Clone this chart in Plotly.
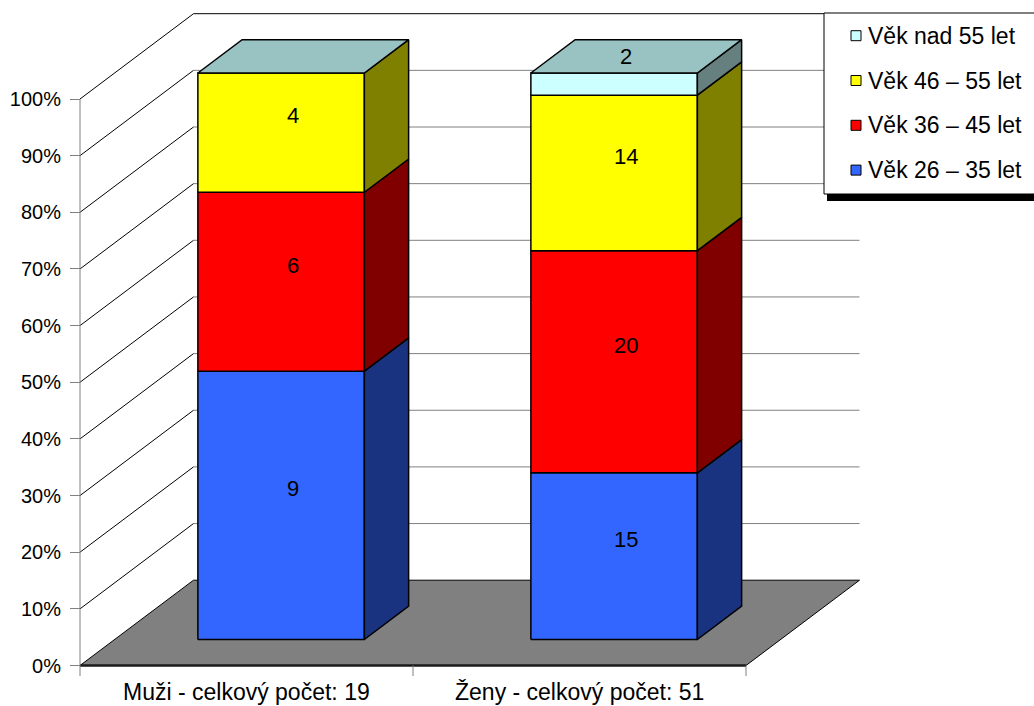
import plotly.graph_objects as go

# ---- data -------------------------------------------------------------
categories = ["Muži - celkový počet: 19", "Ženy - celkový počet: 51"]
series_names = ["Věk 26 – 35 let", "Věk 36 – 45 let", "Věk 46 – 55 let", "Věk nad 55 let"]
muzi_counts = [9, 6, 4, 0]
zeny_counts = [15, 20, 14, 2]
counts_by_category = [muzi_counts, zeny_counts]

front_colors = ["#3366FF", "#FF0000", "#FFFF00", "#CCFFFF"]
side_colors = ["#1A3380", "#800000", "#808000", "#668080"]
top_color = "#99C2C2"

pct_ticks = list(range(0, 101, 10))
tick_labels = [f"{t}%" for t in pct_ticks]

# ---- canvas / 3D oblique projection -----------------------------------
W, H = 1034, 706
AXIS_PX = 80          # pixel column of the front y axis
CAT_PX = 333.0        # pixels per category slot
PCT_PX = 5.665        # pixels per percent
ZERO_PX = 665.5       # pixel row of 0 %
DX = 113.5 / CAT_PX   # horizontal shift of the full floor depth (category units)
DY = 85.3 / PCT_PX    # vertical shift of the full floor depth (percent units)
BAR_W = 0.5           # bar width in category units
D0, D1 = 0.305, 0.695 # bar front / back depth fractions
FONT = "Liberation Sans, Arial"

x_range = [-0.5 - AXIS_PX / CAT_PX, -0.5 + (W - AXIS_PX) / CAT_PX]
y_range = [(ZERO_PX - H) / PCT_PX, ZERO_PX / PCT_PX]


def proj(x, v, d):
    return x + d * DX, v + d * DY


fig = go.Figure()


def path(points, color, width=1.0, fill=None, close=False):
    pts = [proj(*p) for p in points]
    if close:
        pts.append(pts[0])
    xs = [p[0] for p in pts]
    ys = [p[1] for p in pts]
    fig.add_trace(go.Scatter(
        x=xs, y=ys, mode="lines",
        line=dict(color=color, width=width),
        fill="toself" if fill else None,
        fillcolor=fill,
        hoverinfo="skip", showlegend=False,
    ))


x_left, x_right = -0.5, len(categories) - 0.5

# back wall gridlines
for v in pct_ticks[1:]:
    path([(x_left, v, 1), (x_right, v, 1)],
         "#000000" if v == 100 else "#808080", 1)

# left wall gridlines
for v in pct_ticks[1:]:
    path([(x_left, v, 0), (x_left, v, 1)], "#000000", 1)

# floor
path([(x_left, 0, 0), (x_right, 0, 0), (x_right, 0, 1), (x_left, 0, 1)],
     "#000000", 1, fill="#808080", close=True)
path([(x_left, 0, 0), (x_right, 0, 0)], "#1A1A1A", 2.5)

# front y axis line and category tick marks
tick_pct = 10.5 / PCT_PX
path([(x_left, 100, 0), (x_left, -tick_pct, 0)], "#808080", 1)
for i in range(1, len(categories) + 1):
    xb = x_left + i
    path([(xb, 0, 0), (xb, -tick_pct, 0)], "#808080", 1)

# stacked 3D bars
labels = []
for ci, counts in enumerate(counts_by_category):
    total = sum(counts)
    xl, xr = ci - BAR_W / 2, ci + BAR_W / 2
    base = 0.0
    last = max(i for i, c in enumerate(counts) if c > 0)
    for si, c in enumerate(counts):
        if c == 0:
            continue
        top = base + 100.0 * c / total
        # front face
        path([(xl, base, D0), (xr, base, D0), (xr, top, D0), (xl, top, D0)],
             "#000000", 1.5, fill=front_colors[si], close=True)
        # right side face
        path([(xr, base, D0), (xr, base, D1), (xr, top, D1), (xr, top, D0)],
             "#000000", 1.5, fill=side_colors[si], close=True)
        mid_depth = (D0 + D1) / 2
        if si == last and top - base < 8:
            lx, ly = proj(ci, top, mid_depth)
        else:
            lx, ly = proj(ci, (base + top) / 2, mid_depth)
        labels.append((lx, ly, str(c)))
        base = top
    # top face
    path([(xl, 100, D0), (xr, 100, D0), (xr, 100, D1), (xl, 100, D1)],
         "#000000", 1.5, fill=top_color, close=True)

annotations = []
for lx, ly, t in labels:
    annotations.append(dict(
        x=lx, y=ly, xref="x", yref="y", text=t, showarrow=False,
        font=dict(family=FONT, size=22, color="#000000"),
        xanchor="center", yanchor="middle", xshift=-10,
    ))

# category labels under the floor
for ci, name in enumerate(categories):
    annotations.append(dict(
        x=ci, y=0, xref="x", yref="y", text=name, showarrow=False,
        font=dict(family=FONT, size=23, color="#000000"),
        xanchor="center", yanchor="middle", yshift=-26,
    ))

# legend box with drop shadow
shapes = []


def px_x(px):
    return px / W


def px_y(py):
    return 1 - py / H


shapes.append(dict(type="rect", xref="paper", yref="paper",
                   x0=px_x(827), x1=px_x(W + 10), y0=px_y(201), y1=px_y(194),
                   fillcolor="#000000", line=dict(width=0), layer="above"))
shapes.append(dict(type="rect", xref="paper", yref="paper",
                   x0=px_x(824), x1=px_x(W + 10), y0=px_y(194), y1=px_y(13),
                   fillcolor="#FFFFFF", line=dict(color="#000000", width=1),
                   layer="above"))

legend_order = list(range(len(series_names)))[::-1]
row_y0, row_step = 35.7, 44.8
for r, si in enumerate(legend_order):
    cy = row_y0 + r * row_step
    shapes.append(dict(type="rect", xref="paper", yref="paper",
                       x0=px_x(851), x1=px_x(861), y0=px_y(cy + 5), y1=px_y(cy - 5),
                       fillcolor=front_colors[si],
                       line=dict(color="#000000", width=1), layer="above"))
    annotations.append(dict(
        x=px_x(866), y=px_y(cy), xref="paper", yref="paper",
        text=series_names[si], showarrow=False,
        font=dict(family=FONT, size=23, color="#000000"),
        xanchor="left", yanchor="middle",
    ))

fig.update_layout(
    width=W, height=H,
    margin=dict(l=0, r=0, t=0, b=0),
    paper_bgcolor="#FFFFFF", plot_bgcolor="#FFFFFF",
    showlegend=False,
    xaxis=dict(visible=False, range=x_range, fixedrange=True),
    yaxis=dict(
        range=y_range, anchor="free", position=AXIS_PX / W,
        tickmode="array", tickvals=pct_ticks, ticktext=tick_labels,
        ticks="outside", ticklen=10, tickwidth=1, tickcolor="#808080",
        tickfont=dict(family=FONT, size=20, color="#000000"),
        ticklabelstandoff=5,
        showgrid=False, zeroline=False, showline=False, fixedrange=True,
    ),
    annotations=annotations,
    shapes=shapes,
    hovermode=False,
)

fig.write_html("out.html")
